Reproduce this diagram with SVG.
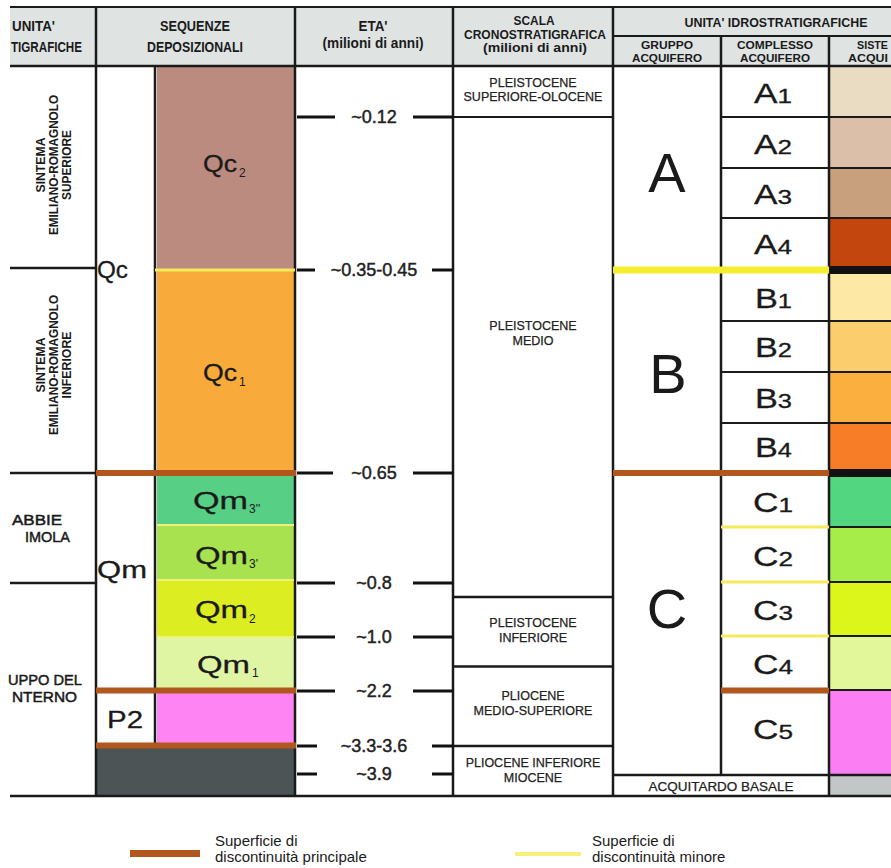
<svg xmlns="http://www.w3.org/2000/svg" width="891" height="868" viewBox="0 0 891 868">
<style>
.ln{stroke:#1a1a1a;stroke-width:2.5;fill:none}
.thin{stroke:#1a1a1a;stroke-width:2;fill:none}
.tick{stroke:#111;stroke-width:3}
.brn{stroke:#b1561c;stroke-width:6}
.ylw{stroke:#f5ee2e;stroke-width:7}
.ylt{stroke:#f4ea5a;stroke-width:3}
.ylp{stroke:#eef27a;stroke-width:2}
text{font-family:"Liberation Sans",Arial,sans-serif;fill:#1a1a1a}
.h{font-weight:bold;font-size:15px;text-anchor:middle}
.hm{font-weight:bold;font-size:12.5px;text-anchor:middle}
.hs{font-weight:bold;font-size:11.5px;text-anchor:middle}
.rot{font-weight:bold;font-size:12.5px;text-anchor:middle}
.lab{font-size:15px;stroke:#1a1a1a;stroke-width:0.5}
.age{font-size:18px;text-anchor:middle;fill:#222;stroke:#222;stroke-width:0.45}
.chr{font-size:12.5px;text-anchor:middle;fill:#222;stroke:#222;stroke-width:0.25}
.seq{font-size:23px;stroke:#1a1a1a;stroke-width:0.3}
.sub{font-size:12px}
.cx{font-size:27px;stroke:#1a1a1a;stroke-width:0.3}
.big{font-size:56px;text-anchor:middle}
.leg{font-size:15px}
</style>
<rect width="891" height="868" fill="#ffffff"/>

<g id="header">
<rect x="10" y="7" width="881" height="59" fill="#dfe4e3"/>
<text class="h" x="12" y="31" style="text-anchor:start" textLength="43" lengthAdjust="spacingAndGlyphs">UNITA'</text>
<text class="h" x="11" y="52" style="text-anchor:start" textLength="71" lengthAdjust="spacingAndGlyphs">TIGRAFICHE</text>
<text class="h" x="195" y="31" textLength="70" lengthAdjust="spacingAndGlyphs">SEQUENZE</text>
<text class="h" x="195" y="52" textLength="96" lengthAdjust="spacingAndGlyphs">DEPOSIZIONALI</text>
<text class="h" x="373" y="31" textLength="29" lengthAdjust="spacingAndGlyphs">ETA'</text>
<text class="h" x="373" y="48" textLength="101" lengthAdjust="spacingAndGlyphs">(milioni di anni)</text>
<text class="hm" x="534" y="25" textLength="41" lengthAdjust="spacingAndGlyphs">SCALA</text>
<text class="hm" x="535" y="38.5" textLength="142" lengthAdjust="spacingAndGlyphs">CRONOSTRATIGRAFICA</text>
<text class="hm" x="535" y="52" textLength="104" lengthAdjust="spacingAndGlyphs">(milioni di anni)</text>
<text class="h" x="776" y="27" style="font-size:13px" textLength="183" lengthAdjust="spacingAndGlyphs">UNITA' IDROSTRATIGRAFICHE</text>
<text class="hs" x="667" y="49" textLength="52" lengthAdjust="spacingAndGlyphs">GRUPPO</text>
<text class="hs" x="667" y="62" textLength="70" lengthAdjust="spacingAndGlyphs">ACQUIFERO</text>
<text class="hs" x="775" y="49" textLength="76" lengthAdjust="spacingAndGlyphs">COMPLESSO</text>
<text class="hs" x="775" y="62" textLength="70" lengthAdjust="spacingAndGlyphs">ACQUIFERO</text>
<text class="hs" x="857" y="49" style="text-anchor:start" textLength="31" lengthAdjust="spacingAndGlyphs">SISTE</text>
<text class="hs" x="848" y="62" style="text-anchor:start" textLength="40" lengthAdjust="spacingAndGlyphs">ACQUI</text>
</g>

<g id="fills">
<rect x="157" y="66" width="137" height="204" fill="#bc8b80"/>
<rect x="157" y="270" width="137" height="203" fill="#f8ab3a"/>
<rect x="157" y="473" width="137" height="52" fill="#57cf85"/>
<rect x="157" y="525" width="137" height="55" fill="#a9e24f"/>
<rect x="157" y="580" width="137" height="57" fill="#dcee22"/>
<rect x="157" y="637" width="137" height="53" fill="#e0f5a4"/>
<rect x="157" y="690" width="137" height="55" fill="#fd84f2"/>
<rect x="96" y="745" width="198" height="50" fill="#4c5456"/>
<rect x="829" y="66" width="62" height="51" fill="#e9dcc3"/>
<rect x="829" y="117" width="62" height="51" fill="#dbbfa9"/>
<rect x="829" y="168" width="62" height="50" fill="#c9a07d"/>
<rect x="829" y="218" width="62" height="48" fill="#c3460f"/>
<rect x="829" y="266" width="62" height="8" fill="#111"/>
<rect x="829" y="274" width="62" height="47" fill="#fde8a6"/>
<rect x="829" y="321" width="62" height="51" fill="#fccd6c"/>
<rect x="829" y="372" width="62" height="51" fill="#fbaf3f"/>
<rect x="829" y="423" width="62" height="46" fill="#f77d27"/>
<rect x="829" y="469" width="62" height="8" fill="#111"/>
<rect x="829" y="477" width="62" height="50" fill="#52d680"/>
<rect x="829" y="527" width="62" height="55" fill="#a7ed49"/>
<rect x="829" y="582" width="62" height="54" fill="#dcf51b"/>
<rect x="829" y="636" width="62" height="54" fill="#e1f799"/>
<rect x="829" y="690" width="62" height="85" fill="#fb7ff3"/>
<rect x="829" y="775" width="62" height="20" fill="#c2c6c6"/>
</g>

<g id="connectors">
<line class="thin" x1="10" y1="7" x2="891" y2="7"/>
<line class="ln" x1="10" y1="66" x2="891" y2="66"/>
<line class="thin" x1="613" y1="36" x2="891" y2="36"/>
<line class="ln" x1="96" y1="7" x2="96" y2="795"/>
<line class="ln" x1="295" y1="7" x2="295" y2="795"/>
<line class="ln" x1="453" y1="7" x2="453" y2="795"/>
<line class="ln" x1="613" y1="7" x2="613" y2="795"/>
<line class="ln" x1="721" y1="36" x2="721" y2="775"/>
<line class="ln" x1="829" y1="36" x2="829" y2="795"/>
<line class="ln" x1="155" y1="66" x2="155" y2="745"/>
<line class="ln" x1="10" y1="268" x2="96" y2="268"/>
<line class="ln" x1="10" y1="473" x2="96" y2="473"/>
<line class="ln" x1="10" y1="583" x2="96" y2="583"/>
<line class="ln" x1="10" y1="796" x2="891" y2="796"/>
<line class="thin" x1="453" y1="117" x2="613" y2="117"/>
<line class="ln" x1="453" y1="597" x2="613" y2="597"/>
<line class="ln" x1="453" y1="666.5" x2="613" y2="666.5"/>
<line class="ln" x1="453" y1="746" x2="613" y2="746"/>
<line class="thin" x1="721" y1="117" x2="891" y2="117"/>
<line class="thin" x1="721" y1="168" x2="891" y2="168"/>
<line class="thin" x1="721" y1="218" x2="891" y2="218"/>
<line class="thin" x1="721" y1="321" x2="891" y2="321"/>
<line class="thin" x1="721" y1="372" x2="891" y2="372"/>
<line class="thin" x1="721" y1="423" x2="891" y2="423"/>
<line class="thin" x1="829" y1="527" x2="891" y2="527"/>
<line class="thin" x1="829" y1="582" x2="891" y2="582"/>
<line class="thin" x1="829" y1="636" x2="891" y2="636"/>
<line class="thin" x1="829" y1="690" x2="891" y2="690"/>
<line class="ln" x1="613" y1="775" x2="891" y2="775"/>
<line class="ylt" x1="721" y1="527" x2="829" y2="527"/>
<line class="ylt" x1="721" y1="582" x2="829" y2="582"/>
<line class="ylt" x1="721" y1="636" x2="829" y2="636"/>
<line class="ylp" x1="157" y1="525" x2="294" y2="525"/>
<line class="ylp" x1="157" y1="580" x2="294" y2="580"/>
<line class="ylp" x1="157" y1="637" x2="294" y2="637"/>
<line class="ylt" x1="155" y1="270" x2="295" y2="270"/>
<line class="ylw" x1="613" y1="270" x2="829" y2="270"/>
<line class="brn" x1="96" y1="473" x2="296" y2="473"/>
<line class="brn" x1="613" y1="473" x2="829" y2="473"/>
<line class="brn" x1="96" y1="690.5" x2="296" y2="690.5"/>
<line class="brn" x1="721" y1="690.5" x2="829" y2="690.5"/>
<line class="brn" x1="96" y1="745.5" x2="296" y2="745.5"/>
<g class="tick">
<line x1="297" y1="117" x2="335" y2="117"/><line x1="413" y1="117" x2="453" y2="117"/>
<line x1="297" y1="270" x2="315" y2="270"/><line x1="432" y1="270" x2="453" y2="270"/>
<line x1="297" y1="473" x2="333" y2="473"/><line x1="413" y1="473" x2="453" y2="473"/>
<line x1="297" y1="583" x2="335" y2="583"/><line x1="413" y1="583" x2="453" y2="583"/>
<line x1="297" y1="637" x2="335" y2="637"/><line x1="413" y1="637" x2="453" y2="637"/>
<line x1="297" y1="691" x2="335" y2="691"/><line x1="413" y1="691" x2="453" y2="691"/>
<line x1="297" y1="746" x2="317" y2="746"/><line x1="432" y1="746" x2="453" y2="746"/>
<line x1="297" y1="774" x2="317" y2="774"/><line x1="432" y1="774" x2="453" y2="774"/>
</g>
</g>

<g id="unita-litostratigrafiche">
<g transform="translate(45,165) rotate(-90)"><text class="rot" textLength="55" lengthAdjust="spacingAndGlyphs">SINTEMA</text></g>
<g transform="translate(58,165) rotate(-90)"><text class="rot" textLength="140" lengthAdjust="spacingAndGlyphs">EMILIANO-ROMAGNOLO</text></g>
<g transform="translate(71,165) rotate(-90)"><text class="rot" textLength="70" lengthAdjust="spacingAndGlyphs">SUPERIORE</text></g>
<g transform="translate(45,365) rotate(-90)"><text class="rot" textLength="55" lengthAdjust="spacingAndGlyphs">SINTEMA</text></g>
<g transform="translate(58,365) rotate(-90)"><text class="rot" textLength="140" lengthAdjust="spacingAndGlyphs">EMILIANO-ROMAGNOLO</text></g>
<g transform="translate(71,365) rotate(-90)"><text class="rot" textLength="67" lengthAdjust="spacingAndGlyphs">INFERIORE</text></g>
<text class="lab" x="12" y="525" textLength="50" lengthAdjust="spacingAndGlyphs">ABBIE</text>
<text class="lab" x="25" y="542" textLength="45" lengthAdjust="spacingAndGlyphs">IMOLA</text>
<text class="lab" x="8" y="685" textLength="74" lengthAdjust="spacingAndGlyphs">UPPO DEL</text>
<text class="lab" x="12" y="702" textLength="65" lengthAdjust="spacingAndGlyphs">NTERNO</text>
</g>

<g id="sequenze">
<text class="seq" x="97" y="278" font-size="24" textLength="31" lengthAdjust="spacingAndGlyphs">Qc</text>
<text class="seq" x="97" y="578" font-size="25" textLength="50" lengthAdjust="spacingAndGlyphs">Qm</text>
<text class="seq" x="107" y="728" font-size="30" textLength="36" lengthAdjust="spacingAndGlyphs">P2</text>
<text class="seq" x="203" y="172" textLength="34" lengthAdjust="spacingAndGlyphs">Qc</text><text class="sub" x="239" y="177">2</text>
<text class="seq" x="203" y="381" textLength="34" lengthAdjust="spacingAndGlyphs">Qc</text><text class="sub" x="239" y="386">1</text>
<text class="seq" x="193" y="509" textLength="55" lengthAdjust="spacingAndGlyphs">Qm</text><text class="sub" x="249" y="513">3''</text>
<text class="seq" x="195" y="564" textLength="53" lengthAdjust="spacingAndGlyphs">Qm</text><text class="sub" x="249" y="568">3'</text>
<text class="seq" x="195" y="618" textLength="53" lengthAdjust="spacingAndGlyphs">Qm</text><text class="sub" x="249" y="623">2</text>
<text class="seq" x="197" y="673" textLength="53" lengthAdjust="spacingAndGlyphs">Qm</text><text class="sub" x="252" y="677">1</text>
</g>

<g id="eta">
<text class="age" x="374" y="123">~0.12</text>
<text class="age" x="374" y="276">~0.35-0.45</text>
<text class="age" x="374" y="479">~0.65</text>
<text class="age" x="374" y="589">~0.8</text>
<text class="age" x="374" y="643">~1.0</text>
<text class="age" x="374" y="697">~2.2</text>
<text class="age" x="374" y="752">~3.3-3.6</text>
<text class="age" x="374" y="780">~3.9</text>
</g>

<g id="scala-cronostratigrafica">
<text class="chr" x="533" y="87">PLEISTOCENE</text>
<text class="chr" x="533" y="101">SUPERIORE-OLOCENE</text>
<text class="chr" x="533" y="330">PLEISTOCENE</text>
<text class="chr" x="533" y="345">MEDIO</text>
<text class="chr" x="533" y="627">PLEISTOCENE</text>
<text class="chr" x="533" y="642">INFERIORE</text>
<text class="chr" x="533" y="700">PLIOCENE</text>
<text class="chr" x="533" y="715">MEDIO-SUPERIORE</text>
<text class="chr" x="533" y="767">PLIOCENE INFERIORE</text>
<text class="chr" x="533" y="782">MIOCENE</text>
</g>

<g id="gruppo-acquifero">
<text class="big" x="667" y="192">A</text>
<text class="big" x="668" y="393">B</text>
<text class="big" x="667" y="628">C</text>
<text class="chr" x="721" y="791" textLength="145" lengthAdjust="spacingAndGlyphs">ACQUITARDO BASALE</text>
</g>

<g id="complesso-acquifero">
<text class="cx" x="754" y="103" textLength="38" lengthAdjust="spacingAndGlyphs">A<tspan font-size="20">1</tspan></text>
<text class="cx" x="754" y="154" textLength="38" lengthAdjust="spacingAndGlyphs">A<tspan font-size="20">2</tspan></text>
<text class="cx" x="754" y="204" textLength="38" lengthAdjust="spacingAndGlyphs">A<tspan font-size="20">3</tspan></text>
<text class="cx" x="754" y="254" textLength="38" lengthAdjust="spacingAndGlyphs">A<tspan font-size="20">4</tspan></text>
<text class="cx" x="755" y="308" textLength="37" lengthAdjust="spacingAndGlyphs">B<tspan font-size="20">1</tspan></text>
<text class="cx" x="755" y="357" textLength="37" lengthAdjust="spacingAndGlyphs">B<tspan font-size="20">2</tspan></text>
<text class="cx" x="755" y="408" textLength="37" lengthAdjust="spacingAndGlyphs">B<tspan font-size="20">3</tspan></text>
<text class="cx" x="755" y="457" textLength="37" lengthAdjust="spacingAndGlyphs">B<tspan font-size="20">4</tspan></text>
<text class="cx" x="753" y="512" textLength="40" lengthAdjust="spacingAndGlyphs">C<tspan font-size="20">1</tspan></text>
<text class="cx" x="753" y="566" textLength="40" lengthAdjust="spacingAndGlyphs">C<tspan font-size="20">2</tspan></text>
<text class="cx" x="753" y="620" textLength="40" lengthAdjust="spacingAndGlyphs">C<tspan font-size="20">3</tspan></text>
<text class="cx" x="753" y="674" textLength="40" lengthAdjust="spacingAndGlyphs">C<tspan font-size="20">4</tspan></text>
<text class="cx" x="753" y="739" textLength="40" lengthAdjust="spacingAndGlyphs">C<tspan font-size="20">5</tspan></text>
</g>

<g id="legenda">
<rect x="130" y="850" width="70" height="7" fill="#b1561c"/>
<text class="leg" x="215" y="846">Superficie di</text>
<text class="leg" x="215" y="862">discontinuità principale</text>
<rect x="515" y="852" width="66" height="4" fill="#f6f07a"/>
<text class="leg" x="592" y="846">Superficie di</text>
<text class="leg" x="592" y="862">discontinuità minore</text>
</g>
</svg>
